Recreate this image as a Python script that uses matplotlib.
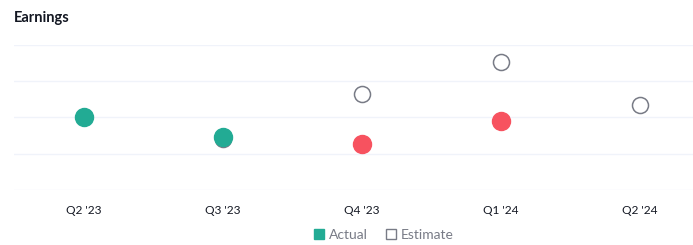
import matplotlib
matplotlib.use("Agg")
from matplotlib import pyplot as plt
from matplotlib.lines import Line2D
import numpy as np

plt.rcParams['font.family'] = ['Lato', 'DejaVu Sans']

quarters = ["Q2 '23", "Q3 '23", "Q4 '23", "Q1 '24", "Q2 '24"]
estimate = [2.00, 1.41, 2.65, 3.53, 2.34]
actual = [2.00, 1.46, 1.27, 1.90, None]

green = '#22ab94'
red = '#f7525f'
grey = '#787b86'
grid = '#f0f3fa'

W, H = 693, 245
fig = plt.figure(figsize=(W / 100, H / 100), dpi=100)
ax = fig.add_axes([14 / W, (H - 190) / H, 1 - 14 / W, 145 / H])

x = np.arange(len(quarters))
ax.set_xlim(-(84 - 14) / 139, 4 + (W - 640) / 139)
ax.set_ylim(0, 4)

for yv in range(0, 5):
    ax.axhline(yv, color=grid, lw=1, zorder=0)

ax.scatter(x, estimate, s=16 ** 2 * 0.52, facecolor='white', edgecolor=grey,
           linewidth=1.1, zorder=2, clip_on=False)
for xi, a, e in zip(x, actual, estimate):
    if a is None:
        continue
    c = green if a >= e else red
    ax.scatter([xi], [a], s=18 ** 2 * 0.52, color=c, zorder=3, clip_on=False)

ax.set_xticks(x)
ax.set_xticklabels(quarters, fontsize=8.6, color='#131722')
ax.tick_params(axis='x', length=0, pad=10.5)
ax.set_yticks([])
for s in ax.spines.values():
    s.set_visible(False)

fig.text(14 / W, 1 - 18 / H, 'Earnings', fontsize=10.5, fontweight='bold',
         color='#131722', va='center', ha='left')

handles = [
    Line2D([], [], marker='s', ls='none', markersize=7, markerfacecolor=green,
           markeredgecolor=green, label='Actual'),
    Line2D([], [], marker='s', ls='none', markersize=7, markerfacecolor='white',
           markeredgecolor=grey, label='Estimate'),
]
leg = fig.legend(handles=handles, loc='center', bbox_to_anchor=(383 / W, 1 - 235 / H),
                 ncol=2, frameon=False, fontsize=10, handletextpad=0.2,
                 columnspacing=1.2, handlelength=1.0)
for t in leg.get_texts():
    t.set_color(grey)

fig.savefig('out.png', dpi=100)
